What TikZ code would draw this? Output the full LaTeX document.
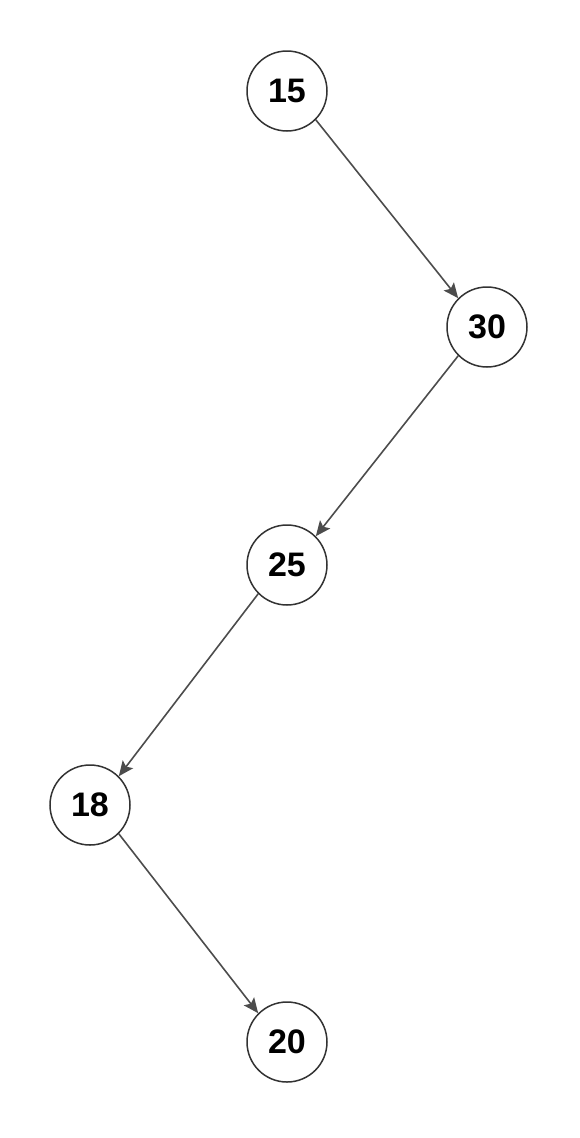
\documentclass[tikz,border=0pt]{standalone}
\usepackage{fontspec}
\setmainfont{Liberation Sans}
\usetikzlibrary{arrows.meta}

\begin{document}
\begin{tikzpicture}[x=1pt, y=-1pt,
  key/.style={circle, draw=black!80, line width=1.5pt, minimum size=80pt, inner sep=0pt, font=\fontsize{34}{40}\selectfont\bfseries},
  link/.style={draw=black!70, line width=1.6pt, -{Stealth[length=15pt,width=13pt,inset=3pt]}}]
\useasboundingbox (0,0) rectangle (580,1138);

% keys
\node[key] (n15) at (287,91)   {15};
\node[key] (n30) at (487,327)  {30};
\node[key] (n25) at (287,565)  {25};
\node[key] (n18) at (90,805)   {18};
\node[key] (n20) at (287,1042) {20};

% links
\draw[link] (n15.-45)  -- (n30.135);
\draw[link] (n30.-135) -- (n25.45);
\draw[link] (n25.-135) -- (n18.45);
\draw[link] (n18.-45)  -- (n20.135);

\end{tikzpicture}
\end{document}
